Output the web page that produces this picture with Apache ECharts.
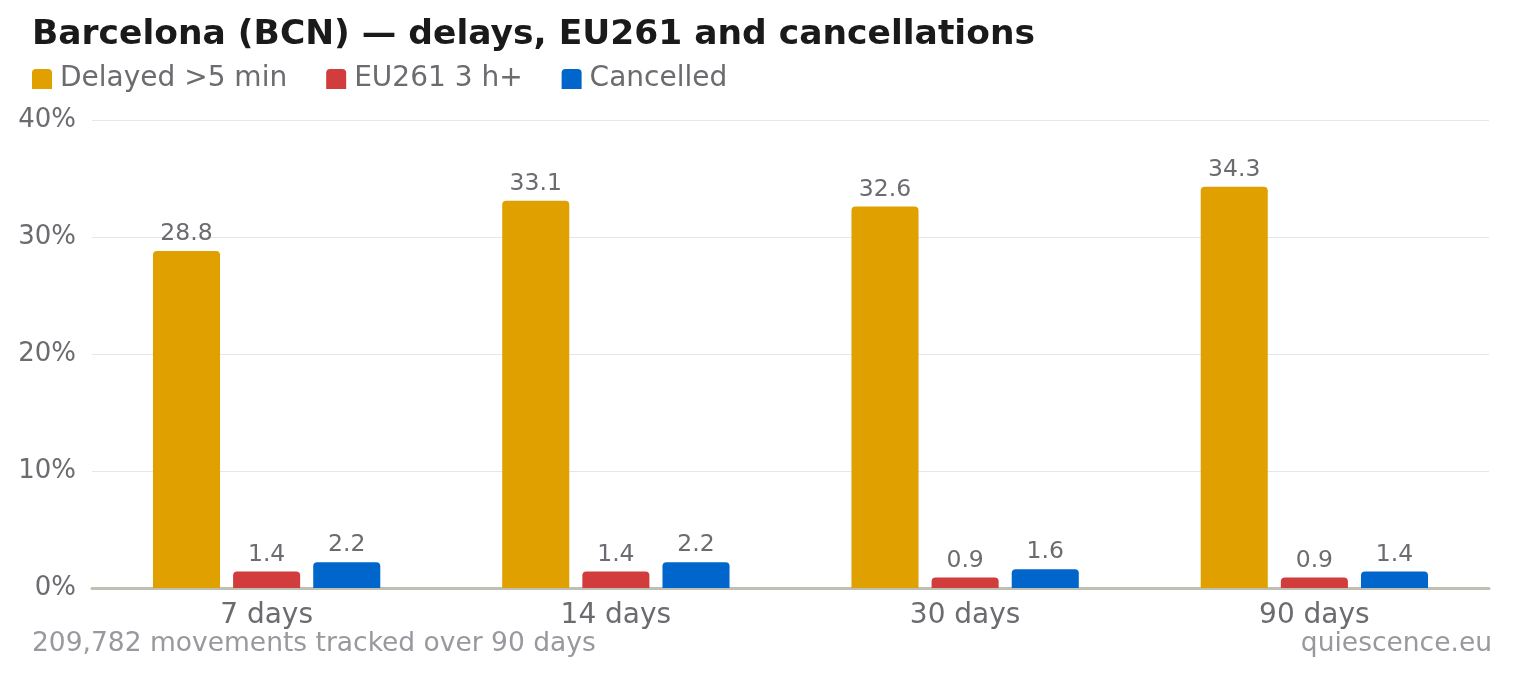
<!DOCTYPE html>
<html>
<head>
<meta charset="utf-8">
<script src="https://cdn.jsdelivr.net/npm/echarts@6/dist/echarts.min.js"></script>
<style>
html, body { margin: 0; padding: 0; background: #fff; }
#chart { width: 1520px; height: 680px; }
</style>
</head>
<body>
<div id="chart"></div>
<script>
var categories = ['7 days', '14 days', '30 days', '90 days'];
var delayed = [28.8, 33.1, 32.6, 34.3];
var eu261 = [1.4, 1.4, 0.9, 0.9];
var cancelled = [2.2, 2.2, 1.6, 1.4];
var seriesNames = ['Delayed >5 min', 'EU261 3 h+', 'Cancelled'];
var colors = ['#e0a000', '#d13c3c', '#0066cc'];

var font = 'DejaVu Sans';
// legend swatch: square with rounded top corners, like the bars
var swatch = 'path://M0,4 Q0,0 4,0 L16,0 Q20,0 20,4 L20,20 L0,20 Z';

function barSeries(name, data, color){
    return {
        name: name,
        type: 'bar',
        data: data,
        barWidth: '19.2%',
        barGap: '19.5%',
        itemStyle: { color: color, borderRadius: [4, 4, 0, 0] },
        label: {
            show: true,
            position: 'top',
            distance: 5,
            color: '#6b6b70',
            fontSize: 23.5,
            fontFamily: font,
            formatter: function(p){ return p.value.toFixed(1); }
        }
    };
}

var chart = echarts.init(document.getElementById('chart'));
chart.setOption({
    animation: false,
    title: {
        text: 'Barcelona (BCN) — delays, EU261 and cancellations',
        left: 27,
        top: 13,
        textStyle: { fontFamily: font, fontSize: 34.5, fontWeight: 'bold', color: '#1a1a1a' }
    },
    legend: {
        left: 27,
        top: 60,
        itemWidth: 20,
        itemHeight: 20,
        itemGap: 39,
        icon: swatch,
        data: seriesNames,
        textStyle: { fontFamily: font, fontSize: 28, color: '#6b6b70', padding: [0, 0, 0, 3] }
    },
    grid: { left: 92, right: 31, top: 120, bottom: 92 },
    xAxis: {
        type: 'category',
        data: categories,
        axisTick: { show: false },
        axisLine: { lineStyle: { color: '#c0c0b2', width: 3 } },
        axisLabel: { fontFamily: font, fontSize: 28, color: '#6b6b70', margin: 14 }
    },
    yAxis: {
        type: 'value',
        min: 0,
        max: 40,
        interval: 10,
        axisLabel: { fontFamily: font, fontSize: 26, color: '#6b6b70', margin: 16, formatter: '{value}%' },
        splitLine: { lineStyle: { color: '#e6e6e6', width: 1 } }
    },
    graphic: [
        {
            type: 'text',
            left: 32,
            top: 631,
            style: { text: '209,782 movements tracked over 90 days', font: '26.5px "DejaVu Sans"', fill: '#98989e' }
        },
        {
            type: 'text',
            right: 28,
            top: 631,
            style: { text: 'quiescence.eu', font: '26.5px "DejaVu Sans"', fill: '#98989e' }
        }
    ],
    series: [
        barSeries(seriesNames[0], delayed, colors[0]),
        barSeries(seriesNames[1], eu261, colors[1]),
        barSeries(seriesNames[2], cancelled, colors[2])
    ]
});
</script>
</body>
</html>
